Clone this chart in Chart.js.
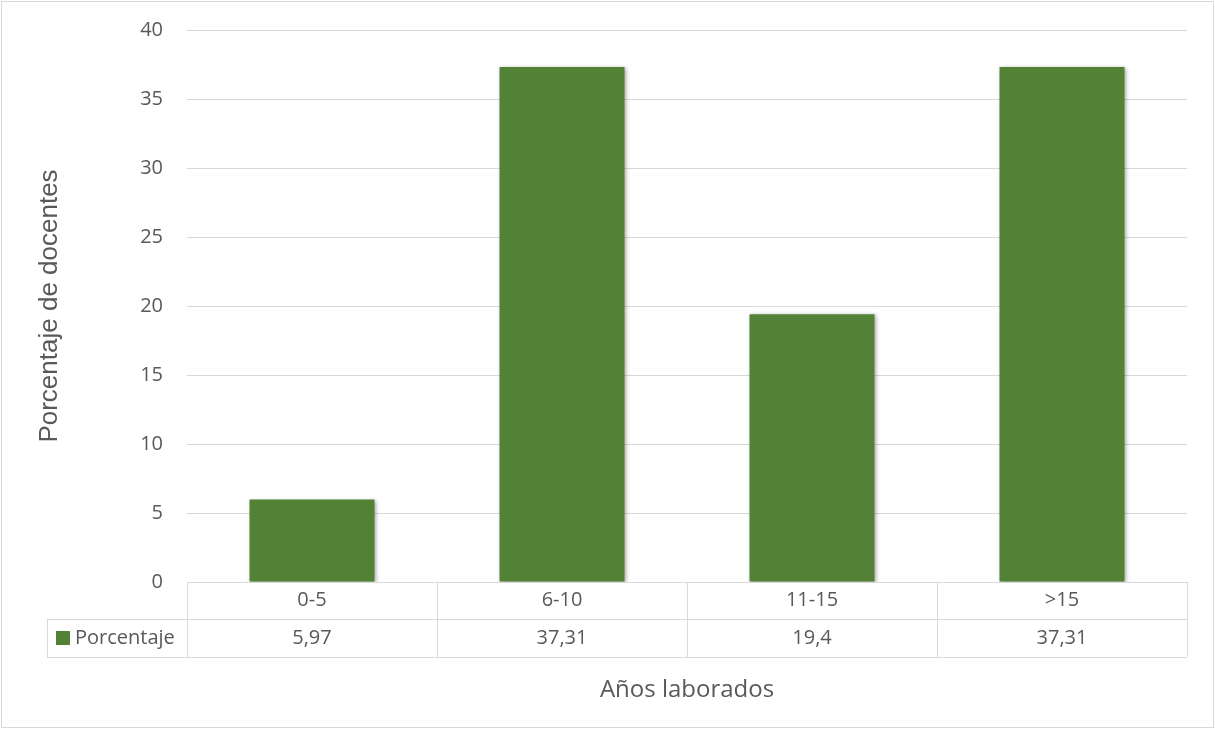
<!DOCTYPE html>
<html>
<head>
<meta charset="utf-8">
<script src="https://cdn.jsdelivr.net/npm/chart.js@4/dist/chart.umd.min.js"></script>
<style>
  html, body { margin: 0; padding: 0; background: #fff; }
  #wrap { width: 1215px; height: 729px; }
</style>
</head>
<body>
<div id="wrap"><canvas id="barChart" width="1215" height="729"></canvas></div>
<script>
const categories = ['0-5', '6-10', '11-15', '>15'];
const porcentaje = [5.97, 37.31, 19.4, 37.31];
const seriesName = 'Porcentaje';
const yTitle = 'Porcentaje de docentes';
const xTitle = 'Años laborados';

const green = '#538135';
const gridColor = '#d9d9d9';
const textColor = '#595959';

// bar shadow like the office chart
const shadowPlugin = {
    id: 'barShadow',
    beforeDatasetsDraw(chart) {
        const ctx = chart.ctx;
        ctx.save();
        ctx.shadowColor = 'rgba(0,0,0,0.35)';
        ctx.shadowBlur = 4;
        ctx.shadowOffsetX = 1;
        ctx.shadowOffsetY = 1;
    },
    afterDatasetsDraw(chart) {
        chart.ctx.restore();
    }
};

// data table under the plot + outer border + x title
const tablePlugin = {
    id: 'dataTable',
    afterDraw(chart) {
        const ctx = chart.ctx;
        const x = chart.scales.x;
        const area = chart.chartArea;
        const n = categories.length;
        const cw = (x.right - x.left) / n;
        const top = area.bottom;
        const mid = top + 37;
        const bot = top + 75;
        const headLeft = 47;

        ctx.save();
        ctx.strokeStyle = gridColor;
        ctx.lineWidth = 1;
        ctx.beginPath();
        ctx.moveTo(headLeft, mid + 0.5); ctx.lineTo(area.right, mid + 0.5);
        ctx.moveTo(headLeft, bot + 0.5); ctx.lineTo(area.right, bot + 0.5);
        ctx.moveTo(headLeft + 0.5, mid); ctx.lineTo(headLeft + 0.5, bot);
        for (let i = 0; i <= n; i++) {
            const px = Math.round(x.getPixelForValue(i) - cw / 2) + 0.5;
            ctx.moveTo(px, top); ctx.lineTo(px, bot);
        }
        ctx.stroke();

        // outer border
        ctx.strokeRect(1.5, 1.5, chart.width - 3, chart.height - 3);

        ctx.fillStyle = textColor;
        ctx.font = '20px "Open Sans"';
        ctx.textAlign = 'center';
        ctx.textBaseline = 'middle';
        categories.forEach((c, i) => {
            const px = x.getPixelForValue(i);
            ctx.fillText(c, px, (top + mid) / 2);
            ctx.fillText(String(porcentaje[i]).replace('.', ','), px, (mid + bot) / 2);
        });

        // legend key
        ctx.fillStyle = green;
        ctx.fillRect(56, (mid + bot) / 2 - 7, 14, 14);
        ctx.fillStyle = textColor;
        ctx.textAlign = 'left';
        ctx.fillText(seriesName, 75, (mid + bot) / 2);

        // x axis title
        ctx.textAlign = 'center';
        ctx.font = '24px "Open Sans"';
        ctx.fillText(xTitle, (area.left + area.right) / 2, 690);
        ctx.restore();
    }
};

new Chart(document.getElementById('barChart'), {
    type: 'bar',
    data: {
        labels: categories,
        datasets: [{
            label: seriesName,
            data: porcentaje,
            backgroundColor: green,
            barPercentage: 0.5,
            categoryPercentage: 1
        }]
    },
    options: {
        responsive: false,
        animation: false,
        layout: { padding: { left: 0, top: 30, right: 28, bottom: 147 } },
        plugins: {
            legend: { display: false },
            tooltip: { enabled: false }
        },
        scales: {
            x: { display: false },
            y: {
                min: 0,
                max: 40,
                ticks: {
                    stepSize: 5,
                    padding: 24,
                    color: textColor,
                    font: { family: 'Open Sans', size: 20 }
                },
                grid: { color: gridColor, drawTicks: false },
                border: { display: false },
                title: {
                    display: true,
                    text: yTitle,
                    color: textColor,
                    font: { family: 'Liberation Sans', size: 26 },
                    padding: { top: 34, bottom: 0 }
                },
                afterFit(scale) {
                    scale.width = 187;
                    scale.paddingTop = 0;
                    scale.paddingBottom = 0;
                }
            }
        }
    },
    plugins: [shadowPlugin, tablePlugin]
});
</script>
</body>
</html>
